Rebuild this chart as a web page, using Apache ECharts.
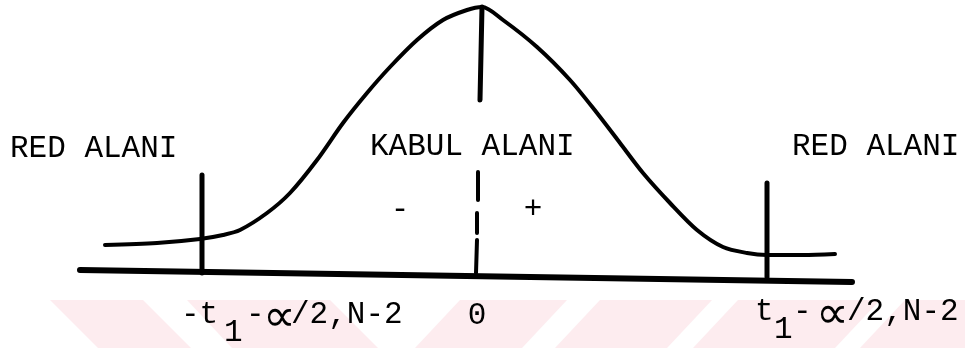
<html>
<head>
    <meta charset="utf-8">
    <title>Kabul / Red alani</title>
    <script src="https://cdn.jsdelivr.net/npm/echarts@6.0.0/dist/echarts.min.js"></script>
    <style>
        html, body { margin: 0; padding: 0; background: #fff; }
        #main { width: 965px; height: 348px; }
    </style>
</head>
<body>
<div id="main"></div>
<script>
    // egri (t dagilimi) noktalari
    var curveX = [105, 157, 200, 223, 240, 267, 290, 317, 343, 367, 390, 417, 443, 467, 482, 503, 537, 570, 597, 620, 643, 670, 697, 723, 747, 767, 803, 835]
    var curveY = [245, 243, 239, 235, 230, 213, 193, 160, 123, 93, 67, 40, 20, 10, 7, 20, 47, 80, 113, 143, 173, 203, 230, 247, 253, 255, 255, 254]

    // taban cizgisi
    var baseX = [80, 852]
    var baseY = [270, 282]

    // kritik degerler (dikey cizgiler)
    var critX = [202, 767]
    var critTop = [175, 183]
    var critBottom = [273, 277]

    // orta kesikli cizgi parcalari [x1, y1, x2, y2]
    var centerDashes = [
        [482, 7, 480, 100],
        [478, 172, 478, 200],
        [477, 213, 477, 233],
        [477, 240, 476, 273]
    ]

    var FONT = '"Liberation Mono", "DejaVu Sans Mono", monospace'
    var pink = '#fdecef'

    function zip (xs, ys) {
        return xs.map(function (x, i) { return [x, ys[i]] })
    }

    function lineSeries (data, width, smooth) {
        return {
            type: 'line',
            data: data,
            smooth: smooth || false,
            symbol: 'none',
            silent: true,
            lineStyle: { color: '#000', width: width, cap: 'round' }
        }
    }

    var series = []
    series.push(lineSeries(zip(curveX, curveY), 4, 0.3))
    series.push(lineSeries(zip(baseX, baseY), 6))
    critX.forEach(function (x, i) {
        series.push(lineSeries([[x, critTop[i]], [x, critBottom[i]]], 5))
    })
    centerDashes.forEach(function (d, i) {
        series.push(lineSeries([[d[0], d[1]], [d[2], d[3]]], i === 0 ? 5 : 4))
    })

    // arka plandaki soluk filigran seritleri
    var stripes = [
        [[50, 300], [143, 300], [191, 348], [98, 348]],
        [[187, 300], [330, 300], [378, 348], [232, 348]],
        [[460, 300], [567, 300], [522, 348], [415, 348]],
        [[600, 300], [712, 300], [667, 348], [555, 348]],
        [[738, 300], [880, 300], [835, 348], [693, 348]],
        [[905, 300], [965, 300], [965, 348], [860, 348]]
    ]

    function txt (s, x, y, size, align, family) {
        return {
            type: 'text', x: x, y: y, z: 10,
            style: {
                text: s, fill: '#000', fontSize: size || 31, fontFamily: family || FONT,
                align: align || 'left', verticalAlign: 'middle'
            }
        }
    }

    var graphics = stripes.map(function (p) {
        return { type: 'polygon', z: -10, silent: true, shape: { points: p }, style: { fill: pink } }
    })

    graphics.push(txt('RED ALANI', 10, 149))
    graphics.push(txt('KABUL ALANI', 370, 147))
    graphics.push(txt('RED ALANI', 792, 147))
    graphics.push(txt('-', 400, 210, 31, 'center'))
    graphics.push(txt('+', 533, 210, 31, 'center'))

    graphics.push(txt('-t', 181, 315))
    graphics.push(txt('1', 224, 333))
    graphics.push(txt('-', 246, 315))
    graphics.push(txt('\u221D', 263, 319, 46, 'left', '"DejaVu Sans", sans-serif'))
    graphics.push(txt('/2,N-2', 291, 315))
    graphics.push(txt('0', 477, 316, 31, 'center'))

    graphics.push(txt('t', 755, 312))
    graphics.push(txt('1', 774, 330))
    graphics.push(txt('-', 793, 312))
    graphics.push(txt('\u221D', 816, 316, 46, 'left', '"DejaVu Sans", sans-serif'))
    graphics.push(txt('/2,N-2', 847, 312))

    var myChart = echarts.init(document.getElementById('main'))

    myChart.setOption({
        animation: false,
        backgroundColor: '#fff',
        grid: { left: 0, right: 0, top: 0, bottom: 0 },
        xAxis: { type: 'value', min: 0, max: 965, show: false },
        yAxis: { type: 'value', min: 0, max: 348, inverse: true, show: false },
        graphic: graphics,
        series: series
    })
</script>
</body>
</html>
